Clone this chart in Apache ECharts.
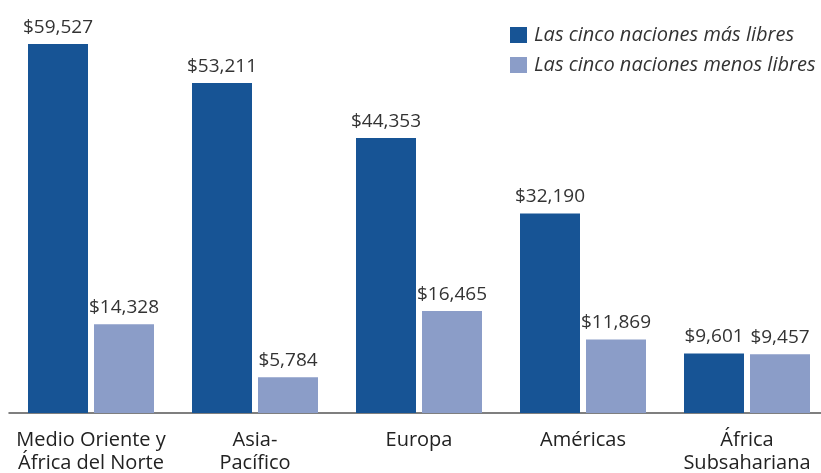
<!DOCTYPE html>
<html>
<head>
<meta charset="utf-8">
<script src="https://cdn.jsdelivr.net/npm/echarts@6/dist/echarts.min.js"></script>
<style>
  html, body { margin: 0; padding: 0; background: #fff; }
  #chart { width: 821px; height: 473px; }
</style>
</head>
<body>
<div id="chart"></div>
<script>
// datos
const regiones = ['Medio Oriente y\nÁfrica del Norte', 'Asia-\nPacífico', 'Europa', 'Américas', 'África\nSubsahariana'];
const masLibres = [59527, 53211, 44353, 32190, 9601];
const menosLibres = [14328, 5784, 16465, 11869, 9457];
const nombreSeries = ['Las cinco naciones más libres', 'Las cinco naciones menos libres'];

const fuente = '"Open Sans", "Noto Sans", sans-serif';
const chart = echarts.init(document.getElementById('chart'));

const etiqueta = {
  show: true,
  position: 'top',
  distance: 7,
  color: '#333',
  fontFamily: fuente,
  fontSize: 19,
  formatter: p => '$' + p.value.toLocaleString('en-US')
};

chart.setOption({
  animation: false,
  textStyle: { fontFamily: fuente },
  legend: {
    orient: 'vertical',
    left: 510,
    top: 25,
    padding: 0,
    itemWidth: 17,
    itemHeight: 16,
    itemGap: 10,
    icon: 'rect',
    textStyle: { fontSize: 20, fontStyle: 'italic', color: '#333', lineHeight: 20, padding: [0, 0, 0, 2] },
    data: nombreSeries
  },
  grid: { left: 9, width: 820, top: 41, bottom: 60, containLabel: false, outerBoundsMode: 'none' },
  xAxis: {
    type: 'category',
    data: regiones,
    axisLine: { lineStyle: { color: '#555', width: 1.5 } },
    axisTick: { show: false },
    axisLabel: { color: '#222', fontSize: 20, lineHeight: 23, margin: 16, interval: 0 }
  },
  yAxis: {
    type: 'value',
    min: 0,
    max: 60000,
    show: false,
    splitLine: { show: false }
  },
  series: [
    {
      name: nombreSeries[0],
      type: 'bar',
      data: masLibres,
      barWidth: 60,
      barGap: '10%',
      itemStyle: { color: '#175495' },
      label: etiqueta
    },
    {
      name: nombreSeries[1],
      type: 'bar',
      data: menosLibres,
      barWidth: 60,
      barGap: '10%',
      itemStyle: { color: '#8b9dc8' },
      label: etiqueta
    }
  ]
});
</script>
</body>
</html>
